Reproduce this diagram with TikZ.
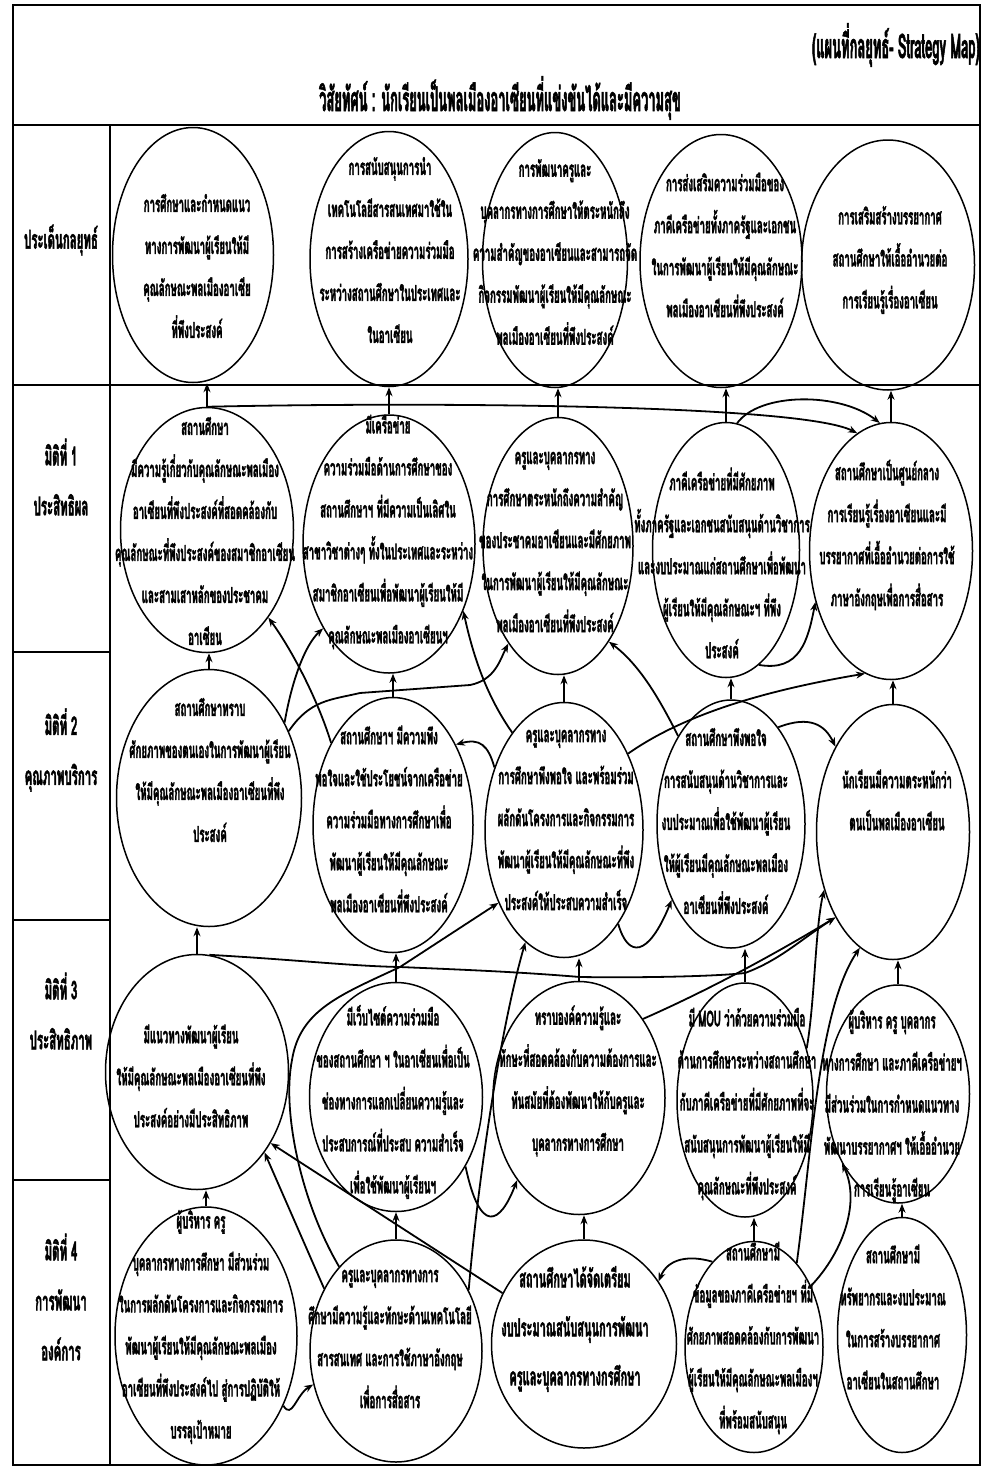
\documentclass[tikz,border=0pt]{standalone}
\usepackage{fontspec}
\usetikzlibrary{shapes.geometric,arrows.meta}
\newfontfamily\thai[Script=Thai,FakeStretch=0.44,FakeBold=1.5]{Loma}
\newfontfamily\thait[Script=Thai,FakeStretch=0.38,FakeBold=1.5]{Loma}
\begin{document}
\begin{tikzpicture}[x=1pt,y=-1pt]
\tikzset{
 el/.style={draw, ellipse, line width=1.5pt, inner sep=0pt},
 tx/.style={align=center, inner sep=0pt, font=\thai\bfseries\fontsize{22}{42}\selectfont},
 txb/.style={align=center, inner sep=0pt, font=\thai\bfseries\fontsize{25}{49}\selectfont},
 lab/.style={align=center, inner sep=0pt, font=\thai\bfseries\fontsize{26}{50}\selectfont},
 arr/.style={line width=1.8pt, -{Stealth[length=9pt,width=7pt]}},
 frame/.style={line width=1.6pt},
}
\useasboundingbox (0,0) rectangle (984,1468);
\fill[white] (0,0) rectangle (984,1468);
% frame
\draw[frame] (13,5) rectangle (980,1465);
\draw[frame] (13,125) -- (980,125);
\draw[frame] (13,385) -- (980,385);
\draw[frame] (110,125) -- (110,1465);
\draw[frame] (13,652) -- (110,652);
\draw[frame] (13,920) -- (110,920);
\draw[frame] (13,1180) -- (110,1180);
% header
\node[anchor=east, font=\thait\bfseries\fontsize{34}{36}\selectfont, inner sep=0pt] (sub) at (980,45) {(แผนที่กลยุทธ์- Strategy Map)};
\node[font=\thait\bfseries\fontsize{34}{36}\selectfont, inner sep=0pt] (title) at (500,98) {วิสัยทัศน์ : นักเรียนเป็นพลเมืองอาเซียนที่แข่งขันได้และมีความสุข};
% row labels
\node[lab] (l1) at (61,240) {ประเด็นกลยุทธ์};
\node[lab] (l2) at (61,477) {มิติที่ 1\\ประสิทธิผล};
\node[lab] (l3) at (61,750) {มิติที่ 2\\คุณภาพบริการ};
\node[lab] (l4) at (61,1011) {มิติที่ 3\\ประสิทธิภาพ};
\node[lab] (l5) at (61,1297) {มิติที่ 4\\การพัฒนา\\องค์การ};
% ellipses row 1
\node[el, minimum width=161, minimum height=255] (e11) at (193,255) {};
\node[el, minimum width=158, minimum height=255] (e12) at (389,259) {};
\node[el, minimum width=145, minimum height=255] (e13) at (555,260) {};
\node[el, minimum width=162, minimum height=253] (e14) at (721,261) {};
\node[el, minimum width=173, minimum height=250] (e15) at (888,265) {};
% row 2
\node[el, minimum width=173, minimum height=245] (e21) at (207,530) {};
\node[el, minimum width=172, minimum height=258] (e22) at (389,544) {};
\node[el, minimum width=150, minimum height=257] (e23) at (558,546) {};
\node[el, minimum width=147, minimum height=255] (e24) at (726,550) {};
\node[el, minimum width=163, minimum height=257] (e25) at (891,551) {};
% row 3
\node[el, minimum width=185, minimum height=257] (e31) at (209,798) {};
\node[el, minimum width=160, minimum height=255] (e32) at (393,825) {};
\node[el, minimum width=158, minimum height=255] (e33) at (564,830) {};
\node[el, minimum width=148, minimum height=248] (e34) at (731,824) {};
\node[el, minimum width=153, minimum height=255] (e35) at (893,832) {};
% row 4
\node[el, minimum width=183, minimum height=235] (e41) at (197,1072) {};
\node[el, minimum width=173, minimum height=229] (e42) at (396,1097) {};
\node[el, minimum width=172, minimum height=233] (e43) at (579,1098) {};
\node[el, minimum width=136, minimum height=234] (e44) at (745,1100) {};
\node[el, minimum width=143, minimum height=218] (e45) at (898,1094) {};
% row 5
\node[el, minimum width=182, minimum height=258] (e51) at (206,1336) {};
\node[el, minimum width=172, minimum height=222] (e52) at (396,1351) {};
\node[el, minimum width=185, minimum height=208] (e53) at (584,1344) {};
\node[el, minimum width=138, minimum height=211] (e54) at (754,1347) {};
\node[el, minimum width=129, minimum height=235] (e55) at (902,1335) {};
% texts
\node[tx] (t11) at (197,266) {การศึกษาและกำหนดแนว\\ทางการพัฒนาผู้เรียนให้มี\\คุณลักษณะพลเมืองอาเซีย\\ที่พึงประสงค์};
\node[tx] (t12) at (390,250) {การสนับสนุนการนำ\\เทคโนโลยีสารสนเทศมาใช้ใน\\การสร้างเครือข่ายความร่วมมือ\\ระหว่างสถานศึกษาในประเทศและ\\ในอาเซียน};
\node[tx] (t13) at (555,252) {การพัฒนาครูและ\\บุคลากรทางการศึกษาให้ตระหนักถึง\\ความสำคัญของอาเซียนและสามารถจัด\\กิจกรรมพัฒนาผู้เรียนให้มีคุณลักษณะ\\พลเมืองอาเซียนที่พึงประสงค์};
\node[tx] (t14) at (725,245) {การส่งเสริมความร่วมมือของ\\ภาคีเครือข่ายทั้งภาครัฐและเอกชน\\ในการพัฒนาผู้เรียนให้มีคุณลักษณะ\\พลเมืองอาเซียนที่พึงประสงค์};
\node[tx] (t15) at (890,260) {การเสริมสร้างบรรยากาศ\\สถานศึกษาให้เอื้ออำนวยต่อ\\การเรียนรู้เรื่องอาเซียน};
\node[tx] (t21) at (205,531) {สถานศึกษา\\มีความรู้เกี่ยวกับคุณลักษณะพลเมือง\\อาเซียนที่พึงประสงค์ที่สอดคล้องกับ\\คุณลักษณะที่พึงประสงค์ของสมาชิกอาเซียน\\และสามเสาหลักของประชาคม\\อาเซียน};
\node[tx] (t22) at (388,532) {มีเครือข่าย\\ความร่วมมือด้านการศึกษาของ\\สถานศึกษาฯ ที่มีความเป็นเลิศใน\\สาขาวิชาต่างๆ ทั้งในประเทศและระหว่าง\\สมาชิกอาเซียนเพื่อพัฒนาผู้เรียนให้มี\\คุณลักษณะพลเมืองอาเซียนฯ};
\node[tx] (t23) at (555,542) {ครูและบุคลากรทาง\\การศึกษาตระหนักถึงความสำคัญ\\ของประชาคมอาเซียนและมีศักยภาพ\\ในการพัฒนาผู้เรียนให้มีคุณลักษณะ\\พลเมืองอาเซียนที่พึงประสงค์};
\node[tx] (t24) at (722,563) {ภาคีเครือข่ายที่มีศักยภาพ\\ทั้งภาครัฐและเอกชนสนับสนุนด้านวิชาการ\\และงบประมาณแก่สถานศึกษาเพื่อพัฒนา\\ผู้เรียนให้มีคุณลักษณะฯ ที่พึง\\ประสงค์};
\node[tx] (t25) at (887,535) {สถานศึกษาเป็นศูนย์กลาง\\การเรียนรู้เรื่องอาเซียนและมี\\บรรยากาศที่เอื้ออำนวยต่อการใช้\\ภาษาอังกฤษเพื่อการสื่อสาร};
\node[tx] (t31) at (210,770) {สถานศึกษาทราบ\\ศักยภาพของตนเองในการพัฒนาผู้เรียน\\ให้มีคุณลักษณะพลเมืองอาเซียนที่พึง\\ประสงค์};
\node[tx] (t32) at (389,819) {สถานศึกษาฯ มีความพึง\\พอใจและใช้ประโยชน์จากเครือข่าย\\ความร่วมมือทางการศึกษาเพื่อ\\พัฒนาผู้เรียนให้มีคุณลักษณะ\\พลเมืองอาเซียนที่พึงประสงค์};
\node[tx] (t33) at (566,820) {ครูและบุคลากรทาง\\การศึกษาพึงพอใจ และพร้อมร่วม\\ผลักดันโครงการและกิจกรรมการ\\พัฒนาผู้เรียนให้มีคุณลักษณะที่พึง\\ประสงค์ให้ประสบความสำเร็จ};
\node[tx] (t34) at (726,821) {สถานศึกษาพึงพอใจ\\การสนับสนุนด้านวิชาการและ\\งบประมาณเพื่อใช้พัฒนาผู้เรียน\\ให้ผู้เรียนมีคุณลักษณะพลเมือง\\อาเซียนที่พึงประสงค์};
\node[tx] (t35) at (897,800) {นักเรียนมีความตระหนักว่า\\ตนเป็นพลเมืองอาเซียน};
\node[tx] (t41) at (191,1076) {มีแนวทางพัฒนาผู้เรียน\\ให้มีคุณลักษณะพลเมืองอาเซียนที่พึง\\ประสงค์อย่างมีประสิทธิภาพ};
\node[tx] (t42) at (393,1102) {มีเว็บไซต์ความร่วมมือ\\ของสถานศึกษา ฯ ในอาเซียนเพื่อเป็น\\ช่องทางการแลกเปลี่ยนความรู้และ\\ประสบการณ์ที่ประสบ ความสำเร็จ\\เพื่อใช้พัฒนาผู้เรียนฯ};
\node[tx] (t43) at (578,1081) {ทราบองค์ความรู้และ\\ทักษะที่สอดคล้องกับความต้องการและ\\ทันสมัยที่ต้องพัฒนาให้กับครูและ\\บุคลากรทางการศึกษา};
\node[tx] (t44) at (747,1104) {มี MOU ว่าด้วยความร่วมมือ\\ด้านการศึกษาระหว่างสถานศึกษา\\กับภาคีเครือข่ายที่มีศักยภาพที่จะ\\สนับสนุนการพัฒนาผู้เรียนให้มี\\คุณลักษณะที่พึงประสงค์};
\node[tx] (t45) at (892,1106) {ผู้บริหาร ครู บุคลากร\\ทางการศึกษา และภาคีเครือข่ายฯ\\มีส่วนร่วมในการกำหนดแนวทาง\\พัฒนาบรรยากาศฯ ให้เอื้ออำนวย\\การเรียนรู้อาเซียน};
\node[tx] (t51) at (201,1327) {ผู้บริหาร ครู\\บุคลากรทางการศึกษา มีส่วนร่วม\\ในการผลักดันโครงการและกิจกรรมการ\\พัฒนาผู้เรียนให้มีคุณลักษณะพลเมือง\\อาเซียนที่พึงประสงค์ไป สู่การปฏิบัติให้\\บรรลุเป้าหมาย};
\node[tx] (t52) at (390,1339) {ครูและบุคลากรทางการ\\ศึกษามีความรู้และทักษะด้านเทคโนโลยี\\สารสนเทศ และการใช้ภาษาอังกฤษ\\เพื่อการสื่อสาร};
\node[txb] (t53) at (575,1329) {สถานศึกษาได้จัดเตรียม\\งบประมาณสนับสนุนการพัฒนา\\ครูและบุคลากรทางกรศึกษา};
\node[tx] (t54) at (753,1338) {สถานศึกษามี\\ข้อมูลของภาคีเครือข่ายฯ ที่มี\\ศักยภาพสอดคล้องกับการพัฒนา\\ผู้เรียนให้มีคุณลักษณะพลเมืองฯ\\ที่พร้อมสนับสนุน};
\node[tx] (t55) at (893,1317) {สถานศึกษามี\\ทรัพยากรและงบประมาณ\\ในการสร้างบรรยากาศ\\อาเซียนในสถานศึกษา};
% vertical arrows
\foreach \lo/\up in {e21/e11,e22/e12,e23/e13,e24/e14,e25/e15,e31/e21,e32/e22,e33/e23,e34/e24,e35/e25,e41/e31,e42/e32,e43/e33,e44/e34,e45/e35,e51/e41,e52/e42,e53/e43,e54/e44,e55/e45}
  \draw[arr] (\lo.north) -- (\lo.north |- \up.south);
% row 2 connectors
\draw[arr] (e21.north) .. controls (420,402) and (800,404) .. (e25.106);
\draw[arr] (e24.85) .. controls (760,392) and (840,392) .. (e25.95);
\draw[arr] (e24.-74) .. controls (800,672) and (808,640) .. (e25.214);
% row 3 -> row 2
\draw[arr] (e31.45) .. controls (292,680) and (305,645) .. (e22.232);
\draw[arr] (e32.127) .. controls (318,700) and (292,650) .. (e21.-55);
\draw[arr] (e31.40) .. controls (310,700) and (330,700) .. (360,693) -- (470,685) .. controls (495,680) and (500,660) .. (e23.243);
\draw[arr] (e33.118) .. controls (488,698) and (474,660) .. (e22.-42);
\draw[arr] (e34.121) .. controls (660,700) and (640,665) .. (e23.-62);
\draw[arr] (e33.138) .. controls (488,745) and (480,738) .. (e32.52);
\draw[arr] (e33.50) .. controls (690,710) and (780,688) .. (e25.258);
\draw[arr] (e34.64) .. controls (810,715) and (825,725) .. (e35.124);
% row 4 -> row 3
\draw[arr] (e41.84) .. controls (300,960) and (350,966) .. (400,967) .. controls (470,970) and (520,972) .. (580,977) .. controls (650,978) and (720,976) .. (745,973) .. controls (780,960) and (800,940) .. (e35.236);
\draw[arr] (e43.51) .. controls (720,985) and (790,945) .. (e35.236);
\draw[arr] (e33.-60) .. controls (628,958) and (648,958) .. (e34.232);
\draw[arr] (e44.40) .. controls (815,1000) and (815,930) .. (e35.220);
% row 5 connectors
\draw[arr] (e52.124) .. controls (300,1200) and (282,1110) .. (292,1060) .. controls (300,1010) and (340,995) .. (400,967) -- (e33.228);
\draw[arr] (e52.40) .. controls (478,1180) and (500,1030) .. (e33.251);
\draw[arr] (e42.-45) .. controls (480,1235) and (500,1225) .. (e43.233);
\draw[arr] (e53.148) -- (e41.-44);
\draw[arr] (e52.139) -- (e41.-50);
\draw[arr] (e51.-42) .. controls (292,1420) and (296,1395) .. (e52.202);
\draw[arr] (e54.116) .. controls (690,1255) and (668,1258) .. (e53.40);
\draw[arr] (e54.63) .. controls (812,1150) and (818,1010) .. (e35.254);
\draw[arr] (e54.47) .. controls (845,1250) and (860,1200) .. (e45.231);
\end{tikzpicture}
\end{document}
